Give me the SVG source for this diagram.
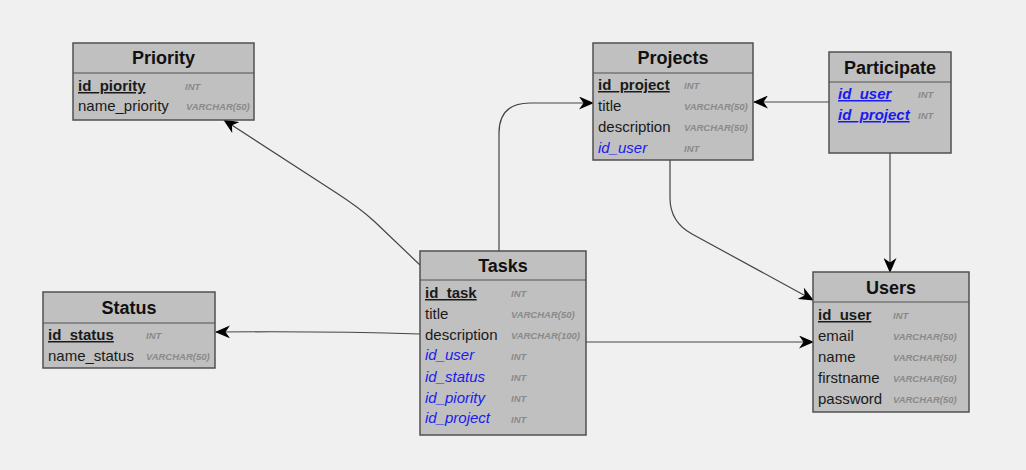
<svg xmlns="http://www.w3.org/2000/svg" width="1026" height="470" viewBox="0 0 1026 470">
<style>
.box{fill:#c0c0c0;stroke:#505050;stroke-width:1.5}
.sep{stroke:#505050;stroke-width:1.2}
.hd{font-family:"Liberation Sans",Arial,sans-serif;font-weight:bold;font-size:18px;fill:#111;text-anchor:middle}
.f{font-family:"Liberation Sans",Arial,sans-serif;font-size:15px;fill:#1a1a1a}
.pk{font-weight:bold;text-decoration:underline}
.fk{fill:#1a1aee;font-style:italic}
.fkpk{fill:#1a1aee;font-style:italic;font-weight:bold;text-decoration:underline}
.t{font-family:"Liberation Sans",Arial,sans-serif;font-size:9.5px;font-style:italic;font-weight:bold;fill:#8a8a8a}
.c{fill:none;stroke:#444;stroke-width:1.2}
</style>
<defs>
<marker id="arr" viewBox="0 0 15 13" refX="14" refY="6.5" markerWidth="15" markerHeight="13" markerUnits="userSpaceOnUse" orient="auto">
<path d="M0,0 L15,6.5 L0,13 L4.5,6.5 Z" fill="#000"/>
</marker>
</defs>
<rect width="1026" height="470" fill="#f0f0f0"/>
<g id="connectors">
<path class="c" d="M420,265 L375,222 Q360,208 335,192 L224,120" marker-end="url(#arr)"/>
<path class="c" d="M420,334 Q330,331 216,332" marker-end="url(#arr)"/>
<path class="c" d="M499,251 L499,133 Q499,103 530,103 L593,103" marker-end="url(#arr)"/>
<path class="c" d="M586,342 L813,342" marker-end="url(#arr)"/>
<path class="c" d="M670,160 L670,198 Q670,222 692,234 L813,300" marker-end="url(#arr)"/>
<path class="c" d="M829,102 L754,102" marker-end="url(#arr)"/>
<path class="c" d="M890,153 L890,272" marker-end="url(#arr)"/>
</g>
<g id="priority">
<rect class="box" x="73" y="43" width="181" height="77"/>
<line class="sep" x1="73" y1="73" x2="254" y2="73"/>
<text class="hd" x="163.5" y="64">Priority</text>
<text class="f pk" x="78" y="91">id_piority</text>
<text class="t" x="185" y="90">INT</text>
<text class="f" x="78" y="111">name_priority</text>
<text class="t" x="186" y="110">VARCHAR(50)</text>
</g>
<g id="projects">
<rect class="box" x="593" y="43" width="160" height="117"/>
<line class="sep" x1="593" y1="73" x2="753" y2="73"/>
<text class="hd" x="673" y="64">Projects</text>
<text class="f pk" x="598" y="90">id_project</text>
<text class="t" x="684" y="89">INT</text>
<text class="f" x="598" y="111">title</text>
<text class="t" x="684" y="110">VARCHAR(50)</text>
<text class="f" x="598" y="132">description</text>
<text class="t" x="684" y="131">VARCHAR(50)</text>
<text class="f fk" x="598" y="153">id_user</text>
<text class="t" x="684" y="152">INT</text>
</g>
<g id="participate">
<rect class="box" x="829" y="52" width="122" height="101"/>
<line class="sep" x1="829" y1="82" x2="951" y2="82"/>
<text class="hd" x="890" y="74">Participate</text>
<text class="f fkpk" x="838" y="99">id_user</text>
<text class="t" x="918" y="98">INT</text>
<text class="f fkpk" x="838" y="120">id_project</text>
<text class="t" x="918" y="119">INT</text>
</g>
<g id="status">
<rect class="box" x="43" y="292" width="172" height="76"/>
<line class="sep" x1="43" y1="323" x2="215" y2="323"/>
<text class="hd" x="129" y="314">Status</text>
<text class="f pk" x="48" y="340">id_status</text>
<text class="t" x="146" y="339">INT</text>
<text class="f" x="48" y="361">name_status</text>
<text class="t" x="146" y="360">VARCHAR(50)</text>
</g>
<g id="tasks">
<rect class="box" x="420" y="251" width="166" height="184"/>
<line class="sep" x1="420" y1="280" x2="586" y2="280"/>
<text class="hd" x="503" y="272">Tasks</text>
<text class="f pk" x="425" y="298">id_task</text>
<text class="t" x="511" y="297">INT</text>
<text class="f" x="425" y="319">title</text>
<text class="t" x="511" y="318">VARCHAR(50)</text>
<text class="f" x="425" y="340">description</text>
<text class="t" x="511" y="339">VARCHAR(100)</text>
<text class="f fk" x="425" y="360">id_user</text>
<text class="t" x="511" y="360">INT</text>
<text class="f fk" x="425" y="382">id_status</text>
<text class="t" x="511" y="381">INT</text>
<text class="f fk" x="425" y="403">id_piority</text>
<text class="t" x="511" y="402">INT</text>
<text class="f fk" x="425" y="423">id_project</text>
<text class="t" x="511" y="423">INT</text>
</g>
<g id="users">
<rect class="box" x="813" y="272" width="156" height="140"/>
<line class="sep" x1="813" y1="302" x2="969" y2="302"/>
<text class="hd" x="891" y="294">Users</text>
<text class="f pk" x="818" y="320">id_user</text>
<text class="t" x="893" y="319">INT</text>
<text class="f" x="818" y="341">email</text>
<text class="t" x="893" y="340">VARCHAR(50)</text>
<text class="f" x="818" y="362">name</text>
<text class="t" x="893" y="361">VARCHAR(50)</text>
<text class="f" x="818" y="383">firstname</text>
<text class="t" x="893" y="382">VARCHAR(50)</text>
<text class="f" x="818" y="404">password</text>
<text class="t" x="893" y="403">VARCHAR(50)</text>
</g>
</svg>
